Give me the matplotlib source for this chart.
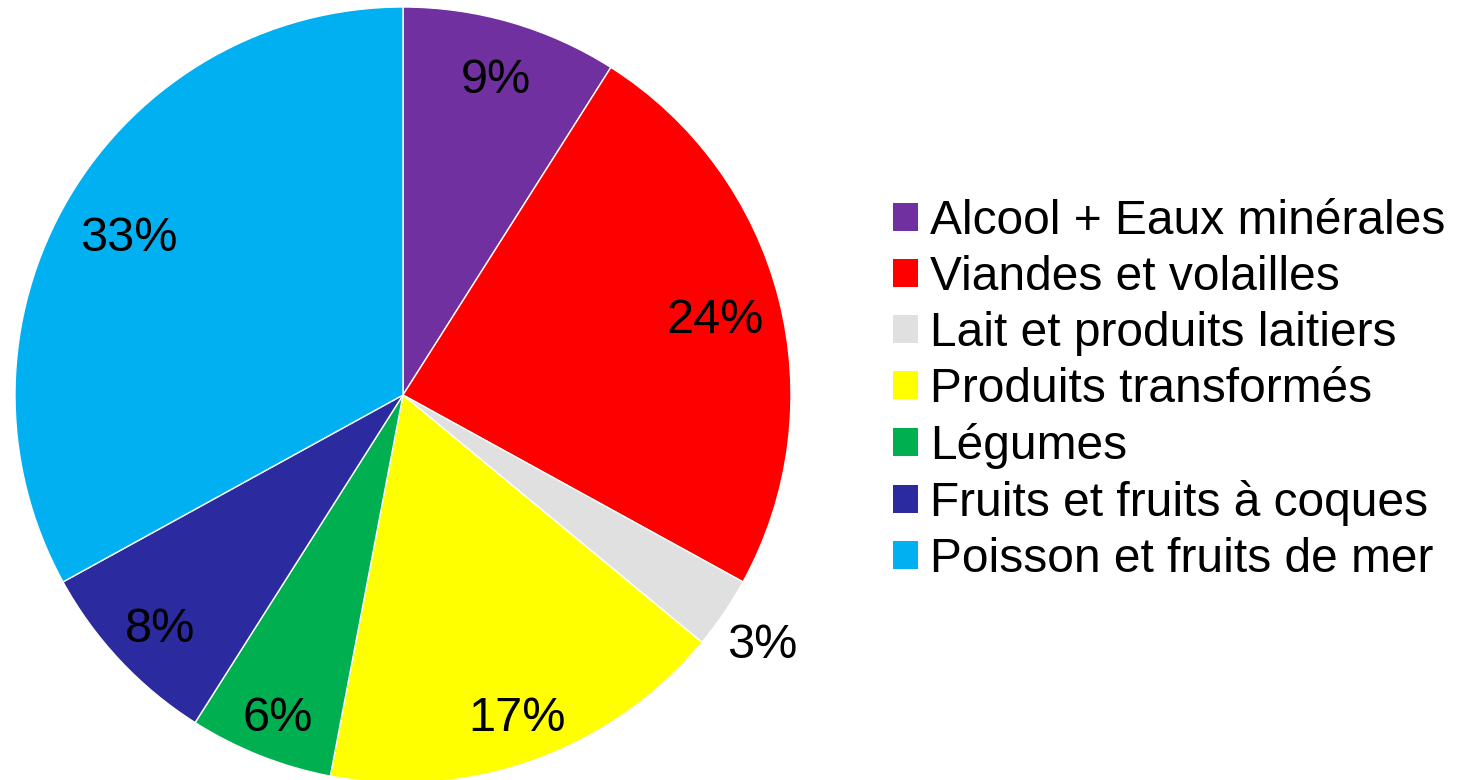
import matplotlib.pyplot as plt
from matplotlib.patches import Patch
import numpy as np

categories = [
    "Alcool + Eaux minérales",
    "Viandes et volailles",
    "Lait et produits laitiers",
    "Produits transformés",
    "Légumes",
    "Fruits et fruits à coques",
    "Poisson et fruits de mer",
]
shares = [9, 24, 3, 17, 6, 8, 33]
pct_labels = ["9%", "24%", "3%", "17%", "6%", "8%", "33%"]

colors = ["#7030A0", "#FF0000", "#E0E0E0", "#FFFF00", "#00B050", "#2B2A9E", "#00B0F0"]
label_dist = [0.86, 0.83, 1.12, 0.87, 0.88, 0.86, 0.82]

plt.rcParams["font.family"] = ["Liberation Sans", "DejaVu Sans"]

W, H = 1459, 780
fig = plt.figure(figsize=(W / 100, H / 100), dpi=100)

cx, cy, r = 403, 395, 388
ax = fig.add_axes([(cx - r) / W, (H - cy - r) / H, 2 * r / W, 2 * r / H])
wedges, _ = ax.pie(shares, colors=colors, startangle=90, counterclock=False,
                   radius=1, wedgeprops=dict(edgecolor="white", linewidth=1))
ax.set_xlim(-1, 1)
ax.set_ylim(-1, 1)
ax.set_aspect("equal")
ax.axis("off")

for w, lab, d in zip(wedges, pct_labels, label_dist):
    ang = np.deg2rad((w.theta1 + w.theta2) / 2)
    ax.text(d * np.cos(ang), d * np.sin(ang) - 0.015, lab, ha="center", va="center",
            fontsize=35, color="black")

handles = [Patch(facecolor=c, edgecolor="none") for c in colors]
fig.legend(handles, categories, loc="upper left",
           bbox_to_anchor=(893 / W, 1 - 199 / H), frameon=False,
           fontsize=34.5, handlelength=0.52, handleheight=0.52,
           handletextpad=0.25, labelspacing=0.23, borderpad=0, borderaxespad=0)

fig.savefig("out.png", dpi=100)
